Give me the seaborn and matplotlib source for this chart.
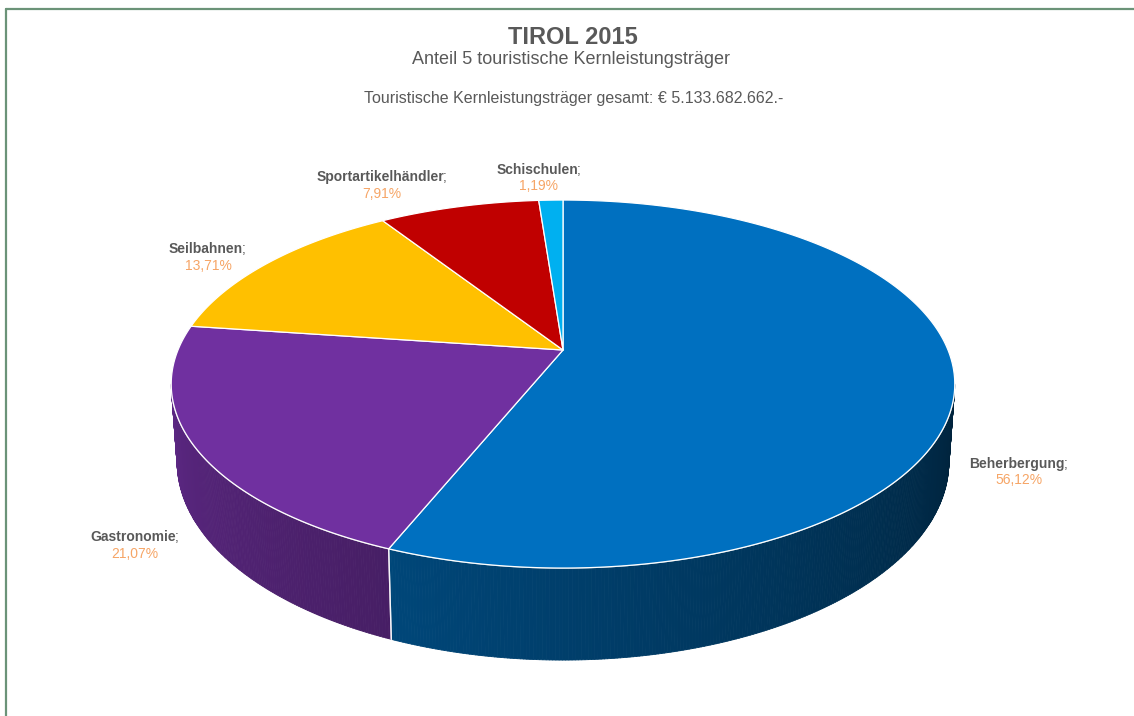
import numpy as np
import matplotlib
matplotlib.use("Agg")
import matplotlib.pyplot as plt
import seaborn as sns
from matplotlib.patches import Polygon
from matplotlib.collections import PolyCollection
from matplotlib.lines import Line2D

# ---------------- data ----------------
categories = ["Beherbergung", "Gastronomie", "Seilbahnen", "Sportartikelhändler", "Schischulen"]
shares = [56.12, 21.07, 13.71, 7.91, 1.19]
value_labels = ["56,12%", "21,07%", "13,71%", "7,91%", "1,19%"]
title = "TIROL 2015"
subtitle = "Anteil 5 touristische Kernleistungsträger"
total_text = "Touristische Kernleistungsträger gesamt: € 5.133.682.662.-"

# ---------------- style ----------------
sns.set_theme(style="white")
plt.rcParams['font.family'] = ['Liberation Sans', 'DejaVu Sans']
palette = sns.color_palette(["#0070C0", "#7030A0", "#FFC000", "#C00000", "#00B0F0"])
GREY = "#595959"
ORANGE = "#F6A566"

fig = plt.figure(figsize=(11.34, 7.16), dpi=100)
ax = fig.add_axes([0, 0, 1, 1])
ax.set_xlim(0, 1134)
ax.set_ylim(716, 0)
ax.axis('off')

# ---------------- 3D pie geometry (layout) ----------------
CX, CY = 563, 350
SX, SY, K, H, XS = 385, 177.7, 0.185, 75, 0.985


def top_pt(t):
    u, v = np.cos(t), np.sin(t)
    w = 1 + K * v
    return np.column_stack([CX + SX * u / w, CY - SY * v / w])


def bot_pt(t):
    u, v = np.cos(t), np.sin(t)
    w = 1 + K * v
    return np.column_stack([CX + XS * SX * u / w, CY - SY * v / w + H / w])


vals = np.array(shares, dtype=float)
cum = np.concatenate([[0], np.cumsum(vals)]) / vals.sum() * 360.0
starts = 90 - cum[:-1]
ends = 90 - cum[1:]

vis_lo = -180 + np.degrees(np.arcsin(K))
vis_hi = -np.degrees(np.arcsin(K))


def shade(tdeg):
    return np.clip(0.3 + 0.00325 * (-10 - tdeg), 0.25, 0.9)


# side faces
for i, (s, e) in enumerate(zip(starts, ends)):
    hi = min(s, vis_hi)
    lo = max(e, vis_lo)
    if hi <= lo:
        continue
    n = int((hi - lo) / 0.4) + 2
    ts = np.linspace(hi, lo, n)
    tr = np.radians(ts)
    tp = top_pt(tr)
    bp = bot_pt(tr)
    quads, cols = [], []
    base = np.array(palette[i])
    for j in range(n - 1):
        quads.append([tp[j], tp[j + 1], bp[j + 1], bp[j]])
        f = shade(0.5 * (ts[j] + ts[j + 1]))
        cols.append(tuple(base * f))
    pc = PolyCollection(quads, facecolors=cols, edgecolors=cols, linewidths=0.6, zorder=2)
    ax.add_collection(pc)
    for tb in (s, e):
        if vis_lo < tb < vis_hi:
            a = top_pt(np.radians([tb]))[0]
            b = bot_pt(np.radians([tb]))[0]
            ax.add_line(Line2D([a[0], b[0]], [a[1], b[1]], color="white", lw=1.0, alpha=0.8, zorder=3))

# rim highlight along front edge
tr = np.radians(np.linspace(vis_hi, vis_lo, 300))
rim = top_pt(tr)
ax.plot(rim[:, 0], rim[:, 1], color="white", lw=1.0, alpha=0.7, zorder=3)

# top faces
for i, (s, e) in enumerate(zip(starts, ends)):
    n = max(int((s - e) / 0.5) + 2, 4)
    tr = np.radians(np.linspace(s, e, n))
    pts = np.vstack([[CX, CY], top_pt(tr)])
    ax.add_patch(Polygon(pts, closed=True, facecolor=palette[i], edgecolor="white",
                         lw=0.9, joinstyle="round", zorder=4))

# ---------------- labels ----------------
label_pos = [(1019, 464), (135, 537), (208, 249), (382, 177), (539, 170)]
for (x, y), name, val in zip(label_pos, categories, value_labels):
    t = ax.text(x - 2, y, name, ha="center", va="center", fontsize=10,
                fontweight="bold", color=GREY, zorder=6)
    ax.annotate(";", xy=(1, 0), xycoords=t, xytext=(-0.8, 0), textcoords="offset points",
                va="bottom", ha="left", fontsize=10, color=GREY, zorder=6)
    ax.text(x, y + 16.5, val, ha="center", va="center", fontsize=10,
            color=ORANGE, zorder=6)

# ---------------- titles ----------------
ax.text(573, 37, title, ha="center", va="center", fontsize=17, fontweight="bold", color=GREY)
ax.text(571, 59, subtitle, ha="center", va="center", fontsize=13, color=GREY)
ax.text(574, 99, total_text, ha="center", va="center", fontsize=11.5, color=GREY)

# ---------------- frame ----------------
frame_col = "#6B9378"
ax.add_line(Line2D([5.5, 5.5], [716, 8.5], color=frame_col, lw=1.6, zorder=10))
ax.add_line(Line2D([5.5, 1134], [8.5, 8.5], color=frame_col, lw=1.6, zorder=10))

fig.savefig("out.png", dpi=100, facecolor="white")
